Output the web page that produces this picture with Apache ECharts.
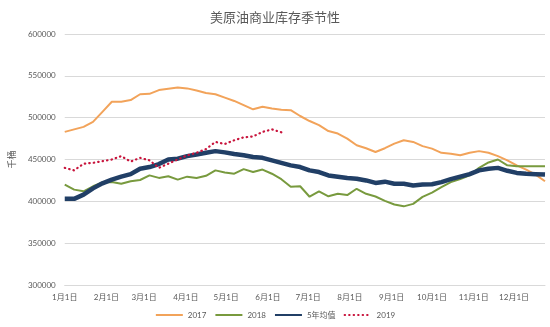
<!DOCTYPE html>
<html>
<head>
<meta charset="utf-8">
<script src="https://cdn.jsdelivr.net/npm/echarts@6/dist/echarts.min.js"></script>
<style>html,body{margin:0;padding:0;background:#fff;}#c{width:550px;height:327px;}</style>
</head>
<body>
<div id="c"></div>
<script>
// Weekly data, one value per week starting 1月1日
const monthStartDays = [0, 31, 59, 90, 120, 151, 181, 212, 243, 273, 304, 334];
const monthLabels = ['1月1日','2月1日','3月1日','4月1日','5月1日','6月1日','7月1日','8月1日','9月1日','10月1日','11月1日','12月1日'];
const seriesNames = ['2017', '2018', '5年均值', '2019'];
const yTicks = [300000, 350000, 400000, 450000, 500000, 550000, 600000];

const s2017 = [483000,486000,489000,495000,507000,519000,519000,521000,528000,528500,533000,534500,536000,535000,532500,529500,528000,524000,520000,515000,510000,513000,511000,509500,509000,502000,496000,491000,484000,481000,475000,467000,463500,459000,463500,469000,473000,471000,466000,463000,458000,457000,455000,458000,460000,458000,454000,449000,443000,438000,432000,424000];
const s2018 = [420000,414000,412000,418000,422500,423000,421000,424000,425500,431000,428000,430000,426000,429500,428000,430500,437000,434500,433000,438500,435000,438000,433000,426500,417500,418000,405500,412000,406000,409000,407500,415000,409000,405800,400600,396200,394000,397000,405300,410500,417000,423000,426500,431000,440000,446500,450000,443000,442000,442000,442000,442000];
const sAvg = [403000,403000,408000,415500,421500,426000,429500,432500,439000,441000,444500,450000,451000,454000,456000,458000,460000,458500,456500,455000,453000,452000,449000,446000,443000,441000,437000,435000,431000,429500,428000,427000,425000,422000,423500,421000,421000,419000,420000,420500,423000,426500,429500,432500,437000,439000,440000,436500,434000,433000,432500,432000];
const s2019 = [440000,437000,445000,446000,448000,450000,454000,447500,452000,449000,440000,445000,450000,455000,458000,462500,471000,468500,473000,476500,477500,483000,486000,482500];

const DAYS_PER_WEEK = 7;
const toPairs = arr => arr.map((v, i) => [i * DAYS_PER_WEEK, v]);
const lastDay = (s2017.length - 1) * DAYS_PER_WEEK;

const chart = echarts.init(document.getElementById('c'));
const font = 'Lato, "Noto Sans CJK SC", sans-serif';
chart.setOption({
  animation: false,
  backgroundColor: '#ffffff',
  title: {
    text: '美原油商业库存季节性',
    left: 'center', top: 6,
    textStyle: { fontSize: 13, fontWeight: 'normal', color: '#595959', fontFamily: '"Noto Sans CJK SC", sans-serif' }
  },
  legend: {
    bottom: 3, left: 'center',
    itemWidth: 27, itemHeight: 8, itemGap: 8,
    itemStyle: { opacity: 0 },
    textStyle: { fontSize: 8, color: '#595959', fontFamily: font },
    data: seriesNames.map(n => ({ name: n, itemStyle: { opacity: 0 } }))
  },
  grid: { left: 57, right: 5, top: 34, bottom: 42, containLabel: false },
  xAxis: {
    type: 'value', min: 0, max: lastDay,
    axisLine: { show: true, lineStyle: { color: '#d9d9d9', width: 1 } },
    axisTick: { show: false },
    splitLine: { show: false },
    axisLabel: {
      customValues: monthStartDays,
      fontSize: 8, color: '#595959', margin: 8, fontFamily: font,
      formatter: v => monthLabels[monthStartDays.indexOf(v)]
    }
  },
  yAxis: {
    type: 'value', min: yTicks[0], max: yTicks[yTicks.length - 1], interval: 50000,
    name: '千桶', nameLocation: 'middle', nameGap: 40,
    nameTextStyle: { fontSize: 9, color: '#595959', fontFamily: font },
    axisLine: { show: false },
    axisTick: { show: false },
    splitLine: { lineStyle: { color: '#d9d9d9', width: 1 } },
    axisLabel: { fontSize: 8, color: '#595959', margin: 9, fontFamily: font, formatter: v => String(v) }
  },
  series: [
    { name: seriesNames[0], type: 'line', data: toPairs(s2017), symbol: 'none',
      lineStyle: { color: '#F2A35A', width: 2 }, itemStyle: { color: '#F2A35A' } },
    { name: seriesNames[1], type: 'line', data: toPairs(s2018), symbol: 'none',
      lineStyle: { color: '#789A3E', width: 2 }, itemStyle: { color: '#789A3E' } },
    { name: seriesNames[2], type: 'line', data: toPairs(sAvg), symbol: 'none',
      lineStyle: { color: '#213F66', width: 4.5 }, itemStyle: { color: '#213F66' } },
    { name: seriesNames[3], type: 'line', data: toPairs(s2019), symbol: 'none',
      lineStyle: { color: '#C8143C', width: 2.2, type: [0.5, 4], cap: 'round' }, itemStyle: { color: '#C8143C' } }
  ]
});
</script>
</body>
</html>
